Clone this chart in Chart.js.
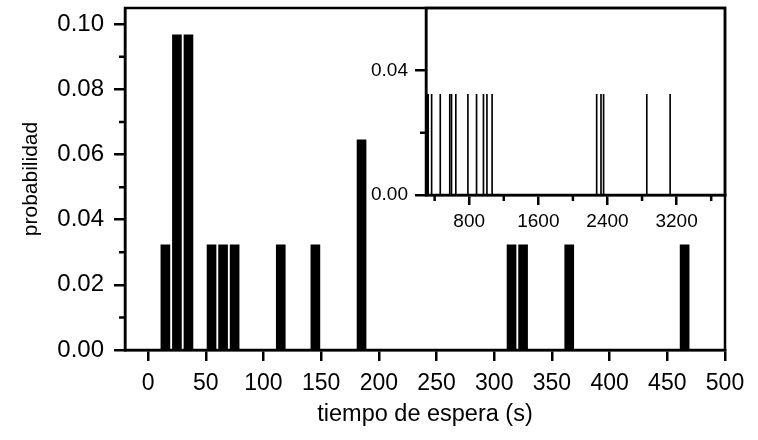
<!DOCTYPE html>
<html>
<head>
<meta charset="utf-8">
<script src="https://cdn.jsdelivr.net/npm/chart.js@4.4.1/dist/chart.umd.min.js"></script>
<style>
  html, body { margin: 0; padding: 0; background: #fff; }
  #wrap { position: relative; width: 758px; height: 440px; }
  #main { position: absolute; left: 0; top: 0; }
  #inset { position: absolute; left: 360px; top: 0; }
</style>
</head>
<body>
<div id="wrap">
  <canvas id="main" width="758" height="440"></canvas>
  <canvas id="inset" width="398" height="240"></canvas>
</div>
<script>
// bin centres (s) and probability of each bin, main histogram 0-500 s
const mainTimes = [15, 25, 35, 55, 65, 75, 115, 145, 185, 315, 325, 365, 465];
const mainProb = [0.0323, 0.0968, 0.0968, 0.0323, 0.0323, 0.0323, 0.0323, 0.0323, 0.0645, 0.0323, 0.0323, 0.0323, 0.0323];

// longer waits, only seen in the inset
const tailTimes = [575, 595, 645, 785, 885, 965, 1005, 1065, 2275, 2325, 2355, 2855, 3125];
const tailProb = [0.0323, 0.0323, 0.0323, 0.0323, 0.0323, 0.0323, 0.0323, 0.0323, 0.0323, 0.0323, 0.0323, 0.0323, 0.0323];

const mainXTicks = [0, 50, 100, 150, 200, 250, 300, 350, 400, 450, 500];
const mainYTicks = [0, 0.02, 0.04, 0.06, 0.08, 0.10];
const mainYMinor = [0.01, 0.03, 0.05, 0.07, 0.09];

const insetXTicks = [800, 1600, 2400, 3200];
const insetXMinor = [400, 1200, 2000, 2800, 3600];
const insetYTicks = [0, 0.04];
const insetYMinor = [0.02];

Chart.defaults.font.family = '"Liberation Sans", Arial, sans-serif';
Chart.defaults.color = '#000';

const LW = 2.5;

// box round the plot area plus the short unlabelled ticks
function frameAndMinor(xMinor, yMinor, len) {
  return {
    id: 'frameAndMinor',
    afterDraw(chart) {
      const { ctx, chartArea: a, scales } = chart;
      ctx.save();
      ctx.strokeStyle = '#000';
      ctx.lineWidth = LW;
      ctx.strokeRect(a.left, a.top, a.right - a.left, a.bottom - a.top);
      ctx.beginPath();
      xMinor.forEach(v => {
        const px = scales.x.getPixelForValue(v);
        ctx.moveTo(px, a.bottom);
        ctx.lineTo(px, a.bottom + len);
      });
      yMinor.forEach(v => {
        const py = scales.y.getPixelForValue(v);
        ctx.moveTo(a.left, py);
        ctx.lineTo(a.left - len, py);
      });
      ctx.stroke();
      ctx.restore();
    }
  };
}

function toPoints(times, probs) {
  return times.map((t, i) => ({ x: t, y: probs[i] }));
}

// fixed axis sizes, and no extra room kept for end labels
function fitX(h) {
  return axis => { axis.height = h; axis.paddingLeft = 0; axis.paddingRight = 0; };
}
function fitY(w) {
  return axis => { axis.width = w; axis.paddingTop = 0; axis.paddingBottom = 0; };
}

new Chart(document.getElementById('main'), {
  type: 'bar',
  data: {
    datasets: [{
      data: toPoints(mainTimes, mainProb),
      backgroundColor: '#000',
      borderWidth: 0,
      barThickness: 9
    }]
  },
  options: {
    responsive: false,
    animation: false,
    devicePixelRatio: 1,
    layout: { padding: { top: 8, right: 33, left: 0, bottom: 0 } },
    plugins: { legend: { display: false }, tooltip: { enabled: false } },
    scales: {
      x: {
        type: 'linear',
        min: -20,
        max: 500,
        offset: false,
        afterBuildTicks: axis => { axis.ticks = mainXTicks.map(v => ({ value: v })); },
        afterFit: fitX(90),
        grid: { offset: false, drawOnChartArea: false, tickLength: 11, lineWidth: LW, color: '#000' },
        border: { width: LW, color: '#000' },
        ticks: { font: { size: 23 }, padding: 9, maxRotation: 0, callback: v => String(v) },
        title: { display: true, text: 'tiempo de espera (s)', font: { size: 23.5 }, padding: { top: 0, bottom: 11 } }
      },
      y: {
        min: 0,
        max: 0.105,
        afterBuildTicks: axis => { axis.ticks = mainYTicks.map(v => ({ value: v })); },
        afterFit: fitY(125),
        grid: { drawOnChartArea: false, tickLength: 11, lineWidth: LW, color: '#000' },
        border: { width: LW, color: '#000' },
        ticks: { font: { size: 24 }, padding: 10, callback: v => v.toFixed(2) },
        title: { display: true, text: 'probabilidad', font: { size: 21 }, padding: { top: 19, bottom: 0 } }
      }
    }
  },
  plugins: [frameAndMinor([], mainYMinor, 6)]
});

new Chart(document.getElementById('inset'), {
  type: 'bar',
  data: {
    datasets: [{
      data: toPoints(mainTimes.concat(tailTimes), mainProb.concat(tailProb)),
      backgroundColor: '#000',
      borderWidth: 0,
      barThickness: 1
    }]
  },
  options: {
    responsive: false,
    animation: false,
    devicePixelRatio: 1,
    layout: { padding: { top: 8, right: 33, left: 0, bottom: 0 } },
    plugins: { legend: { display: false }, tooltip: { enabled: false } },
    scales: {
      x: {
        type: 'linear',
        min: 300,
        max: 3760,
        offset: false,
        afterBuildTicks: axis => { axis.ticks = insetXTicks.map(v => ({ value: v })); },
        afterFit: fitX(45),
        grid: { offset: false, drawOnChartArea: false, tickLength: 10, lineWidth: LW, color: '#000' },
        border: { width: LW, color: '#000' },
        ticks: { font: { size: 19 }, padding: 5, maxRotation: 0, callback: v => String(v) }
      },
      y: {
        min: 0,
        max: 0.06,
        afterBuildTicks: axis => { axis.ticks = insetYTicks.map(v => ({ value: v })); },
        afterFit: fitY(66),
        grid: { drawOnChartArea: false, tickLength: 11, lineWidth: LW, color: '#000' },
        border: { width: LW, color: '#000' },
        ticks: { font: { size: 19 }, padding: 7, callback: v => v.toFixed(2) }
      }
    }
  },
  plugins: [frameAndMinor(insetXMinor, insetYMinor, 6)]
});
</script>
</body>
</html>
